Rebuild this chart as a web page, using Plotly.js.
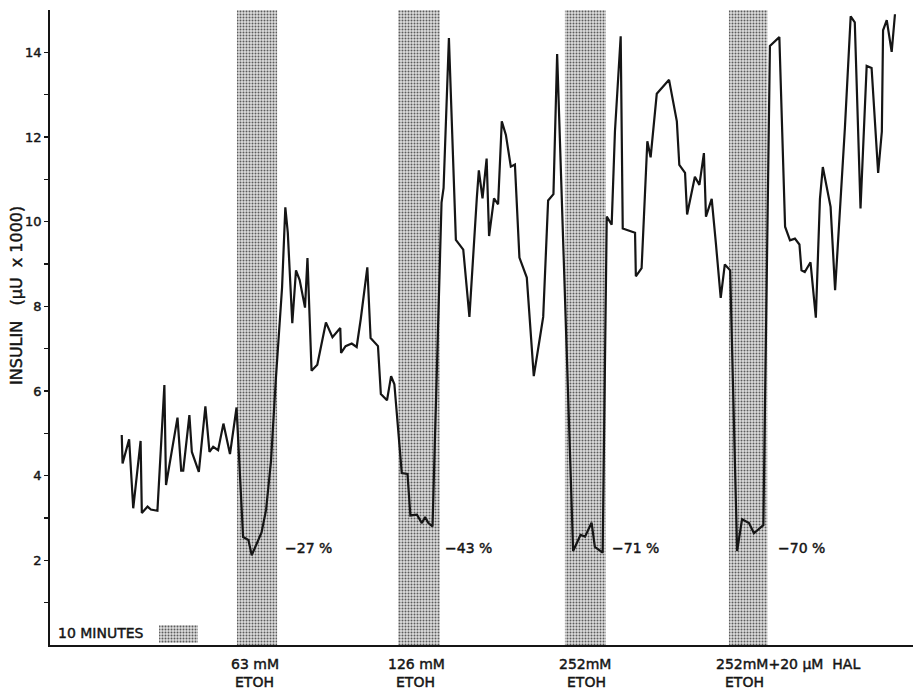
<!DOCTYPE html>
<html>
<head>
<meta charset="utf-8">
<script src="https://cdn.plot.ly/plotly-3.0.1.min.js"></script>
<style>
  html, body { margin: 0; padding: 0; background: #ffffff; }
  #chart { width: 913px; height: 692px; }
  #chart svg text { stroke: #151515; stroke-width: 0.45px; }
</style>
</head>
<body>
<div id="chart"></div>
<script>
// ---- data ----
// time in minutes (x), insulin in µU x 1000 (y)
const minutes = [
  17.5, 17.7, 19.3, 20.3, 22.1, 22.4, 23.8, 24.6, 26.2, 27.9,
  28.3, 31.1, 32.0, 32.5, 34.0, 34.6, 36.3, 37.9, 38.9, 39.8,
  41.0, 42.3, 43.9, 45.5, 47.1, 48.4, 49.2, 51.6, 52.7, 53.9,
  55.1, 55.8, 56.6, 57.4, 58.0, 59.1, 60.0, 60.9, 62.2, 62.8,
  63.8, 65.2, 67.3, 68.9, 70.8, 71.0, 72.1, 73.6, 74.8, 75.8,
  77.4, 78.2, 80.0, 80.7, 82.2, 83.2, 84.0, 85.8, 87.2, 87.9,
  89.5, 90.7, 91.5, 92.3, 93.3, 95.5, 96.0, 97.3, 99.0, 100.8,
  102.3, 104.1, 104.6, 105.5, 106.5, 107.1, 108.3, 109.3, 110.2, 111.2,
  112.4, 113.4, 114.5, 116.3, 118.0, 119.3, 120.3, 121.5, 122.8, 123.7,
  127.6, 129.4, 130.5, 132.1, 132.9, 134.8, 135.8, 137.0, 137.8, 139.2,
  139.7, 142.7, 142.9, 144.3, 145.7, 146.5, 148.0, 151.0, 152.9, 153.5,
  154.9, 155.4, 157.3, 158.4, 159.5, 160.0, 161.4, 162.4, 163.6, 164.6,
  165.9, 167.6, 168.8, 170.5, 171.7, 174.0, 175.6, 177.9, 179.3, 180.5,
  181.7, 182.8, 183.3, 184.1, 185.5, 186.8, 187.8, 188.5, 190.4, 191.5,
  193.9, 195.3, 196.3, 197.7, 199.2, 200.4, 202.0, 202.9, 203.2, 204.1,
  205.3, 206.1
];
const insulin = [
  4.96, 4.29, 4.86, 3.23, 4.82, 3.12, 3.27, 3.20, 3.17, 6.14,
  3.78, 5.37, 4.12, 4.12, 5.43, 4.56, 4.09, 5.64, 4.56, 4.68,
  4.60, 5.23, 4.51, 5.61, 2.55, 2.48, 2.12, 2.66, 3.19, 4.34,
  6.30, 7.32, 8.44, 10.34, 9.74, 7.60, 8.85, 8.62, 7.97, 9.14,
  6.48, 6.62, 7.62, 7.27, 7.49, 6.90, 7.06, 7.12, 7.04, 7.70,
  8.92, 7.25, 7.06, 5.93, 5.78, 6.35, 6.16, 4.06, 4.04, 3.06,
  3.08, 2.88, 3.02, 2.88, 2.80, 10.45, 10.80, 14.34, 9.57, 9.34,
  7.75, 10.55, 11.21, 10.55, 11.49, 9.66, 10.55, 10.41, 12.37, 12.05,
  11.30, 11.35, 9.15, 8.68, 6.35, 7.14, 7.75, 10.50, 10.65, 13.96,
  2.22, 2.60, 2.56, 2.89, 2.32, 2.18, 10.12, 9.93, 12.13, 14.38,
  9.84, 9.74, 8.71, 8.90, 11.90, 11.52, 13.02, 13.35, 12.37, 11.34,
  11.15, 10.17, 11.06, 10.87, 11.62, 10.12, 10.54, 9.51, 8.20, 8.99,
  8.85, 2.22, 2.97, 2.88, 2.64, 2.83, 14.15, 14.36, 9.88, 9.56,
  9.60, 9.46, 8.85, 8.81, 9.04, 7.73, 10.54, 11.29, 10.35, 8.38,
  12.23, 14.85, 14.71, 10.31, 13.68, 13.63, 11.15, 12.13, 14.52, 14.76,
  14.01, 14.90
];
// ethanol exposure periods (minutes)
const bandStart = [45.6, 84.9, 125.6, 165.6];
const bandEnd   = [55.4, 95.1, 135.6, 175.0];
const doseLabels = ['63 mM', '126 mM', '252mM', '252mM+20 \u03bcM\u00a0 HAL'];
const drugLabels = ['ETOH', 'ETOH', 'ETOH', 'ETOH'];
const changeLabels = ['\u221227 %', '\u221243 %', '\u221271 %', '\u221270 %'];
const yTickVals = [1,2,3,4,5,6,7,8,9,10,11,12,13,14];
const yTickText = ['', '2', '', '4', '', '6', '', '8', '', '10', '', '12', '', '14'];

// ---- layout / styling ----
const FONT = 'DejaVu Sans, Arial, sans-serif';
const INK = '#151515';
const yTop = 15;
const xMax = 210.5;

const bandMid = bandStart.map((s, i) => (s + bandEnd[i]) / 2);
const bandW = bandStart.map((s, i) => bandEnd[i] - s);

const dotPattern = {shape: '.', fgcolor: '#5c5c5c', bgcolor: '#dedede', size: 3, solidity: 0.34, fillmode: 'replace'};

const bands = {
  type: 'bar', x: bandMid, width: bandW, y: bandStart.map(() => yTop), base: bandStart.map(() => 0),
  marker: {color: '#dedede', line: {width: 0}, pattern: dotPattern},
  hoverinfo: 'skip', showlegend: false
};
// "10 MINUTES" scale swatch
const swatch = {
  type: 'bar', x: [31.35], width: [9.5], y: [0.42], base: [0.05],
  marker: {color: '#dedede', line: {width: 0}, pattern: dotPattern},
  hoverinfo: 'skip', showlegend: false
};
const trace = {
  type: 'scatter', mode: 'lines', x: minutes, y: insulin,
  line: {color: INK, width: 2.2}, hoverinfo: 'skip', showlegend: false
};

const lblFont = {family: FONT, size: 14, color: INK};
const changeOffset = [1.4, 0.8, 1.0, 2.1];
const annotations = [];
changeLabels.forEach((t, i) => annotations.push({
  x: bandEnd[i] + changeOffset[i], y: 2.3, xref: 'x', yref: 'y', text: t, showarrow: false,
  xanchor: 'left', yanchor: 'middle', font: lblFont
}));
const doseShift = [-0.6, -0.6, 0, 9.6];
const drugShift = [-0.6, -0.9, 0.3, -0.8];
doseLabels.forEach((t, i) => {
  annotations.push({
    x: bandMid[i] + doseShift[i], y: -0.03, xref: 'x', yref: 'paper', text: t, showarrow: false,
    xanchor: 'center', yanchor: 'middle', font: lblFont
  });
  annotations.push({
    x: bandMid[i] + drugShift[i], y: -0.058, xref: 'x', yref: 'paper', text: drugLabels[i], showarrow: false,
    xanchor: 'center', yanchor: 'middle', font: lblFont
  });
});
annotations.push({
  x: 1.5, y: 0.28, xref: 'x', yref: 'y', text: '10 MINUTES', showarrow: false,
  xanchor: 'left', yanchor: 'middle', font: lblFont
});
annotations.push({
  x: -0.038, y: 0.55, xref: 'paper', yref: 'paper',
  text: 'INSULIN\u00a0\u00a0\u00a0(\u03bcU\u00a0\u00a0x 1000)', showarrow: false, textangle: -90,
  xanchor: 'center', yanchor: 'middle', font: {family: FONT, size: 16, color: INK}
});

const layout = {
  width: 913, height: 692,
  margin: {l: 50, r: 0, t: 10, b: 47, pad: 0},
  paper_bgcolor: '#ffffff', plot_bgcolor: '#ffffff',
  barmode: 'overlay',
  showlegend: false,
  xaxis: {
    range: [0, xMax], showline: true, linecolor: INK, linewidth: 1.8,
    showticklabels: false, ticks: '', showgrid: false, zeroline: false, fixedrange: true
  },
  yaxis: {
    range: [0, yTop], tickmode: 'array', tickvals: yTickVals, ticktext: yTickText,
    ticks: 'outside', ticklen: 4, tickwidth: 1.4, tickcolor: INK,
    showline: true, linecolor: INK, linewidth: 1.8,
    showgrid: false, zeroline: false, fixedrange: true,
    tickfont: {family: FONT, size: 13, color: INK}
  },
  annotations: annotations
};

Plotly.newPlot('chart', [bands, swatch, trace], layout, {staticPlot: true, displayModeBar: false});
</script>
</body>
</html>
